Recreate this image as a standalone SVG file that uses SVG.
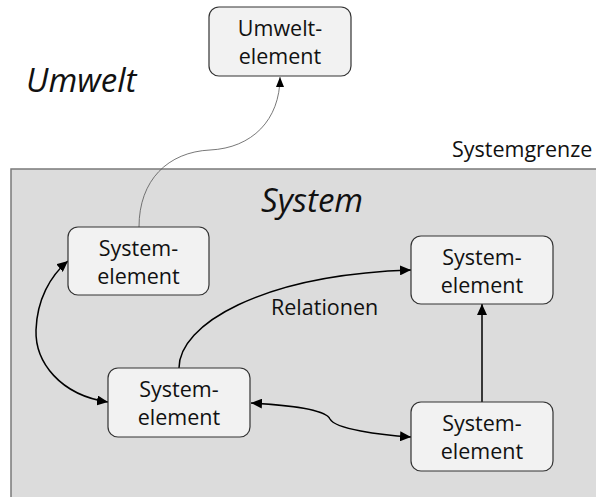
<svg xmlns="http://www.w3.org/2000/svg" width="596" height="497" viewBox="0 0 596 497">
  <style>
    .node rect { fill: #f2f2f2; stroke: #333333; stroke-width: 1.2; }
    .lbl { font-family: "Open Sans", "Liberation Sans", sans-serif; font-size: 21.5px; fill: #111111; text-anchor: middle; }
    .big { font-family: "Open Sans", "Liberation Sans", sans-serif; font-size: 33px; font-style: italic; fill: #111111; }
    .rel { fill: none; stroke: #000000; stroke-width: 1.5; }
    .env { fill: none; stroke: #555555; stroke-width: 0.8; }
  </style>
  <defs>
    <marker id="arr" viewBox="0 0 11 10" refX="11" refY="5" markerWidth="11" markerHeight="10" markerUnits="userSpaceOnUse" orient="auto-start-reverse">
      <path d="M0,0 L11,5 L0,10 Z" fill="#000000"/>
    </marker>
    <marker id="arrS" viewBox="0 0 10 8" refX="10" refY="4" markerWidth="10" markerHeight="8" markerUnits="userSpaceOnUse" orient="auto">
      <path d="M0,0 L10,4 L0,8 Z" fill="#000000"/>
    </marker>
  </defs>

  <rect width="596" height="497" fill="#ffffff"/>

  <g id="system-boundary">
    <rect x="11" y="169" width="600" height="340" fill="#dcdcdc" stroke="#7a7a7a" stroke-width="1.5"/>
    <text x="452" y="157" class="lbl" style="text-anchor:start">Systemgrenze</text>
  </g>

  <text x="26" y="92" class="big">Umwelt</text>
  <text x="261" y="212" class="big">System</text>
  <text x="271" y="315" class="lbl" style="text-anchor:start">Relationen</text>

  <g id="connectors">
    <path class="env" d="M139,227 C139,180 168,152 210,150 C252,148 280,120 280,77" marker-end="url(#arrS)"/>
    <path class="rel" d="M108,402 C60,395 35,362 36,330 C37,300 50,276 68,261" marker-start="url(#arr)" marker-end="url(#arr)"/>
    <path class="rel" d="M179,368 C179,325 260,275 411,270" marker-end="url(#arr)"/>
    <path class="rel" d="M482,402 L482,304" marker-end="url(#arr)"/>
    <path class="rel" d="M251,403 C290,405 326,410 330,419 C335,429 380,435 411,437" marker-start="url(#arr)" marker-end="url(#arr)"/>
  </g>

  <g id="umweltelement" class="node">
    <rect x="209" y="7" width="142" height="69" rx="10"/>
    <text x="280" y="36" class="lbl">Umwelt-</text>
    <text x="280" y="64" class="lbl">element</text>
  </g>
  <g id="systemelement-a" class="node">
    <rect x="68" y="227" width="141" height="68" rx="10"/>
    <text x="138.5" y="256" class="lbl">System-</text>
    <text x="138.5" y="284" class="lbl">element</text>
  </g>
  <g id="systemelement-b" class="node">
    <rect x="411" y="236" width="142" height="68" rx="10"/>
    <text x="482" y="265" class="lbl">System-</text>
    <text x="482" y="293" class="lbl">element</text>
  </g>
  <g id="systemelement-c" class="node">
    <rect x="108" y="368" width="142" height="69" rx="10"/>
    <text x="179" y="397" class="lbl">System-</text>
    <text x="179" y="425" class="lbl">element</text>
  </g>
  <g id="systemelement-d" class="node">
    <rect x="411" y="402" width="142" height="69" rx="10"/>
    <text x="482" y="431" class="lbl">System-</text>
    <text x="482" y="459" class="lbl">element</text>
  </g>
</svg>
